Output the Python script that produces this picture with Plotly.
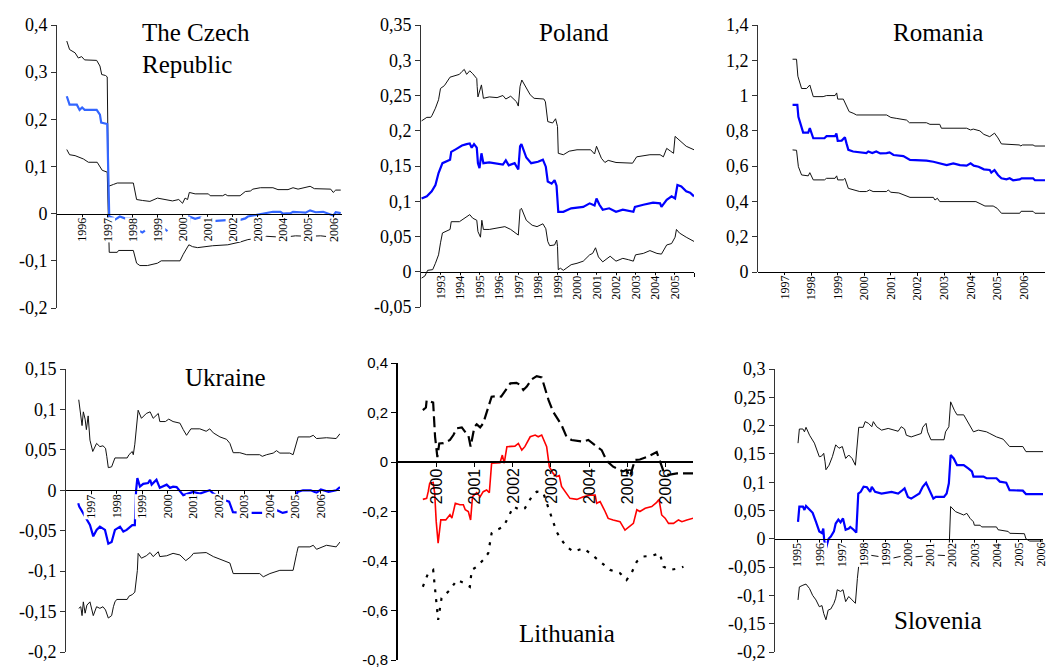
import plotly.graph_objects as go

W, H = 1048, 668
SERIF = "Liberation Serif, Times New Roman, serif"
SANS = "Liberation Sans, Arial, sans-serif"

# ---------------- DATA ----------------
# The Czech Republic
cz_up_x = [1995.39, 1995.5, 1995.72, 1995.85, 1995.98, 1996.1, 1996.58, 1996.71, 1996.78, 1996.93, 1997.0, 1997.05, 1997.25, 1997.4, 1998.04, 1998.17, 1998.4, 1998.7, 1999.0, 1999.35, 1999.6, 1999.85, 2000.0, 2000.1, 2000.2, 2000.27, 2000.5, 2001.03, 2001.1, 2001.6, 2001.7, 2001.8, 2002.29, 2002.5, 2002.7, 2002.8, 2003.1, 2003.6, 2003.8, 2004.2, 2004.4, 2004.6, 2004.9, 2005.08, 2005.25, 2005.5, 2005.9, 2006.0, 2006.1, 2006.3]
cz_up_y = [0.366, 0.348, 0.341, 0.330, 0.333, 0.326, 0.325, 0.313, 0.295, 0.293, 0.290, 0.058, 0.062, 0.065, 0.065, 0.030, 0.028, 0.026, 0.033, 0.030, 0.027, 0.030, 0.022, 0.033, 0.030, 0.045, 0.042, 0.042, 0.038, 0.038, 0.041, 0.038, 0.038, 0.047, 0.048, 0.052, 0.055, 0.055, 0.051, 0.051, 0.055, 0.052, 0.055, 0.058, 0.053, 0.052, 0.052, 0.045, 0.050, 0.050]
cz_mid_x = [1995.39, 1995.5, 1995.79, 1995.9, 1996.0, 1996.1, 1996.58, 1996.71, 1996.76, 1996.98, 1997.0, 1997.08, 1997.25, 1997.3, 1997.5, 1997.7, 1998.04, 1998.15, 1998.3, 1998.4, 1998.5, 1998.6, 1999.2, 1999.3, 1999.4, 1999.5, 2000.25, 2000.27, 2000.5, 2000.7, 2001.2, 2001.9, 2002.3, 2002.5, 2002.6, 2002.8, 2003.1, 2003.35, 2003.6, 2003.9, 2004.0, 2004.3, 2004.4, 2004.7, 2004.9, 2005.08, 2005.3, 2005.6, 2005.8, 2006.0, 2006.1, 2006.3]
cz_mid_y = [0.249, 0.231, 0.231, 0.220, 0.225, 0.220, 0.220, 0.210, 0.193, 0.190, 0.190, -0.006, -0.009, -0.013, -0.006, -0.010, -0.011, None, -0.037, -0.040, -0.036, None, -0.036, -0.033, -0.037, None, -0.028, -0.006, -0.011, -0.008, -0.016, -0.013, -0.013, -0.010, -0.006, -0.004, -0.001, 0.000, 0.004, 0.004, 0.000, 0.001, 0.004, 0.003, 0.002, 0.007, 0.003, 0.004, 0.000, -0.004, 0.003, 0.001]
cz_lo_x = [1995.39, 1995.5, 1995.72, 1995.92, 1996.05, 1996.25, 1996.6, 1996.8, 1997.0, 1997.08, 1997.4, 1997.45, 1998.04, 1998.17, 1998.3, 1998.6, 1998.8, 1999.0, 1999.15, 1999.9, 2000.03, 2000.25, 2000.4, 2000.6, 2001.2, 2001.8, 2002.3, 2002.6, 2003.0, 2003.35, 2004.0, 2004.5, 2005.0, 2005.5, 2006.0, 2006.3]
cz_lo_y = [0.136, 0.125, 0.123, 0.118, 0.116, 0.109, 0.109, 0.092, 0.088, -0.082, -0.082, -0.078, -0.078, -0.105, -0.110, -0.110, -0.108, -0.105, -0.100, -0.100, -0.086, -0.066, -0.070, -0.072, -0.068, -0.066, -0.060, -0.055, -0.052, -0.048, -0.050, -0.047, -0.048, -0.047, -0.050, -0.048]

# Poland
pl_up_x = [1992.03, 1992.3, 1992.5, 1992.57, 1992.74, 1992.9, 1993.0, 1993.2, 1993.49, 1993.7, 1993.97, 1994.1, 1994.22, 1994.34, 1994.5, 1994.65, 1994.86, 1994.88, 1994.92, 1995.1, 1995.2, 1995.5, 1995.9, 1996.2, 1996.35, 1996.6, 1996.9, 1996.99, 1997.08, 1997.17, 1997.35, 1997.6, 1997.8, 1998.3, 1998.38, 1998.45, 1998.5, 1998.75, 1998.9, 1999.0, 1999.04, 1999.3, 1999.6, 2000.0, 2000.7, 2000.9, 2001.0, 2001.25, 2001.43, 2001.6, 2002.0, 2002.85, 2003.06, 2003.74, 2004.26, 2004.43, 2004.6, 2004.8, 2004.95, 2005.03, 2005.25, 2005.6, 2006.0]
pl_up_y = [0.214, 0.219, 0.219, 0.222, 0.232, 0.244, 0.260, 0.264, 0.276, 0.278, 0.280, 0.284, 0.287, 0.280, 0.285, 0.281, 0.274, 0.263, 0.248, 0.265, 0.246, 0.248, 0.247, 0.250, 0.245, 0.249, 0.241, 0.235, 0.263, 0.272, 0.263, 0.251, 0.246, 0.245, 0.241, 0.227, 0.213, 0.211, 0.217, 0.206, 0.168, 0.166, 0.171, 0.173, 0.173, 0.167, 0.178, 0.161, 0.155, 0.158, 0.155, 0.154, 0.163, 0.166, 0.166, 0.163, 0.175, 0.171, 0.168, 0.192, 0.187, 0.178, 0.173]
pl_mid_x = [1992.03, 1992.3, 1992.55, 1992.74, 1992.9, 1993.1, 1993.49, 1993.55, 1993.8, 1994.1, 1994.34, 1994.5, 1994.6, 1994.72, 1994.86, 1994.92, 1995.0, 1995.1, 1995.2, 1995.5, 1996.2, 1996.35, 1996.5, 1996.8, 1996.99, 1997.08, 1997.15, 1997.4, 1997.65, 1998.0, 1998.25, 1998.4, 1998.5, 1998.7, 1998.85, 1998.95, 1999.04, 1999.3, 1999.7, 2000.32, 2000.65, 2000.9, 2001.0, 2001.15, 2001.32, 2001.65, 2002.0, 2002.35, 2002.89, 2002.97, 2003.4, 2003.9, 2004.26, 2004.33, 2004.6, 2004.85, 2005.03, 2005.15, 2005.35, 2005.6, 2005.8, 2006.0]
pl_mid_y = [0.104, 0.107, 0.114, 0.123, 0.140, 0.154, 0.159, 0.170, 0.174, 0.179, 0.181, 0.182, 0.176, 0.181, 0.176, 0.154, 0.147, 0.168, 0.154, 0.155, 0.152, 0.158, 0.151, 0.154, 0.145, 0.178, 0.181, 0.162, 0.154, 0.156, 0.159, 0.149, 0.128, 0.125, 0.130, 0.122, 0.085, 0.085, 0.090, 0.092, 0.097, 0.094, 0.104, 0.095, 0.088, 0.090, 0.085, 0.088, 0.085, 0.092, 0.095, 0.098, 0.097, 0.092, 0.102, 0.107, 0.104, 0.123, 0.121, 0.114, 0.112, 0.107]
pl_lo_x = [1992.03, 1992.2, 1992.34, 1992.6, 1992.74, 1992.9, 1993.0, 1993.1, 1993.49, 1993.55, 1993.97, 1994.34, 1994.5, 1994.65, 1994.86, 1994.92, 1995.05, 1995.12, 1995.2, 1995.5, 1996.3, 1996.6, 1996.99, 1997.08, 1997.15, 1997.4, 1997.7, 1997.95, 1998.25, 1998.4, 1998.5, 1998.6, 1998.85, 1998.96, 1999.0, 1999.04, 1999.15, 1999.3, 1999.7, 2000.0, 2000.32, 2000.65, 2000.8, 2000.95, 2001.1, 2001.32, 2001.7, 2002.0, 2002.35, 2002.65, 2002.89, 2003.0, 2003.4, 2003.74, 2004.1, 2004.33, 2004.6, 2004.85, 2005.03, 2005.1, 2005.25, 2005.6, 2006.0]
pl_lo_y = [-0.009, -0.006, 0.002, 0.003, 0.012, 0.024, 0.041, 0.055, 0.060, 0.071, 0.071, 0.078, 0.081, 0.076, 0.073, 0.057, 0.049, 0.073, 0.060, 0.060, 0.064, 0.060, 0.052, 0.088, 0.090, 0.073, 0.066, 0.064, 0.068, 0.061, 0.043, 0.037, 0.038, 0.045, 0.036, 0.003, 0.005, 0.002, 0.010, 0.012, 0.015, 0.024, 0.026, 0.034, 0.021, 0.014, 0.022, 0.015, 0.019, 0.017, 0.015, 0.024, 0.026, 0.030, 0.026, 0.025, 0.038, 0.040, 0.049, 0.060, 0.055, 0.049, 0.043]

# Romania
ro_up_x = [1997.3, 1997.45, 1997.5, 1997.64, 1997.83, 1997.95, 1998.08, 1998.45, 1998.58, 1998.9, 1998.96, 1999.0, 1999.21, 1999.33, 1999.43, 1999.58, 1999.71, 2000.84, 2001.0, 2001.2, 2001.59, 2001.7, 2002.34, 2002.47, 2002.84, 2002.9, 2003.85, 2004.0, 2004.1, 2004.35, 2004.5, 2004.72, 2004.85, 2004.9, 2005.03, 2005.16, 2005.85, 2005.88, 2005.95, 2006.35, 2006.42, 2006.8]
ro_up_y = [1.206, 1.206, 1.110, 1.040, 1.040, 1.060, 0.994, 0.994, 1.000, 1.000, 1.015, 0.980, 0.980, 0.937, 0.909, 0.900, 0.890, 0.890, 0.876, 0.871, 0.861, 0.846, 0.846, 0.837, 0.837, 0.815, 0.815, 0.805, 0.810, 0.800, 0.780, 0.767, 0.780, 0.787, 0.760, 0.726, 0.720, 0.714, 0.720, 0.720, 0.714, 0.714]
ro_mid_x = [1997.3, 1997.48, 1997.52, 1997.64, 1997.7, 1997.89, 1997.95, 1998.08, 1998.5, 1998.58, 1998.9, 1998.95, 1999.0, 1999.15, 1999.27, 1999.33, 1999.4, 1999.58, 1999.83, 2000.08, 2000.15, 2000.3, 2000.45, 2000.6, 2000.84, 2000.95, 2001.1, 2001.47, 2001.72, 2002.34, 2002.6, 2002.84, 2003.1, 2003.35, 2003.6, 2003.85, 2004.0, 2004.12, 2004.3, 2004.5, 2004.72, 2004.78, 2004.9, 2005.03, 2005.16, 2005.35, 2005.47, 2005.6, 2005.85, 2005.92, 2006.35, 2006.42, 2006.8]
ro_mid_y = [0.947, 0.947, 0.880, 0.815, 0.790, 0.790, 0.815, 0.758, 0.758, 0.770, 0.770, 0.785, 0.744, 0.745, 0.764, 0.729, 0.692, 0.683, 0.678, 0.674, 0.683, 0.674, 0.683, 0.672, 0.674, 0.678, 0.663, 0.657, 0.635, 0.631, 0.625, 0.616, 0.606, 0.616, 0.606, 0.603, 0.616, 0.603, 0.597, 0.582, 0.578, 0.563, 0.578, 0.550, 0.531, 0.525, 0.531, 0.520, 0.525, 0.531, 0.531, 0.520, 0.520]
ro_lo_x = [1997.3, 1997.45, 1997.52, 1997.64, 1997.89, 1997.95, 1998.08, 1998.5, 1998.58, 1998.9, 1998.96, 1999.0, 1999.21, 1999.27, 1999.4, 1999.58, 1999.83, 2000.08, 2000.2, 2000.33, 2000.84, 2000.9, 2001.0, 2001.3, 2001.72, 2002.6, 2002.66, 2002.75, 2002.84, 2004.2, 2004.35, 2004.54, 2004.85, 2005.0, 2005.16, 2005.85, 2005.9, 2006.35, 2006.42, 2006.8]
ro_lo_y = [0.692, 0.690, 0.597, 0.550, 0.545, 0.563, 0.522, 0.522, 0.531, 0.531, 0.545, 0.522, 0.522, 0.531, 0.474, 0.465, 0.456, 0.456, 0.465, 0.456, 0.456, 0.465, 0.452, 0.448, 0.423, 0.423, 0.408, 0.418, 0.399, 0.399, 0.389, 0.374, 0.374, 0.361, 0.333, 0.333, 0.344, 0.344, 0.333, 0.333]

# Ukraine
ua_up_x = [1996.5, 1996.55, 1996.63, 1996.68, 1996.75, 1996.8, 1996.87, 1996.94, 1997.05, 1997.2, 1997.33, 1997.45, 1997.55, 1997.6, 1997.66, 1997.79, 1997.92, 1998.4, 1998.47, 1998.6, 1998.64, 1998.7, 1998.77, 1998.83, 1998.96, 1999.15, 1999.3, 1999.42, 1999.62, 1999.68, 1999.9, 2000.03, 2000.2, 2000.47, 2000.6, 2000.73, 2000.9, 2001.25, 2001.5, 2001.64, 2001.78, 2002.04, 2002.3, 2002.43, 2002.56, 2002.82, 2003.09, 2003.6, 2003.7, 2003.87, 2004.13, 2004.26, 2004.39, 2004.78, 2004.91, 2005.05, 2005.11, 2005.57, 2005.7, 2005.83, 2006.22, 2006.6, 2006.75]
ua_up_y = [0.112, 0.100, 0.080, 0.097, 0.088, 0.075, 0.092, 0.062, 0.048, 0.058, 0.054, 0.055, 0.052, 0.042, 0.028, 0.029, 0.040, 0.040, 0.044, 0.048, 0.044, 0.057, 0.083, 0.099, 0.089, 0.095, 0.097, 0.089, 0.095, 0.085, 0.085, 0.088, 0.085, 0.083, 0.075, 0.068, 0.076, 0.076, 0.073, 0.076, 0.071, 0.066, 0.063, 0.058, 0.0465, 0.0465, 0.044, 0.044, 0.042, 0.044, 0.046, 0.049, 0.046, 0.046, 0.044, 0.058, 0.066, 0.066, 0.068, 0.064, 0.065, 0.064, 0.070]
ua_mid_x = [1996.48, 1996.52, 1996.94, 1997.07, 1997.2, 1997.33, 1997.53, 1997.66, 1997.79, 1997.92, 1998.12, 1998.25, 1998.38, 1998.6, 1998.7, 1998.75, 1998.8, 1998.9, 1999.03, 1999.22, 1999.3, 1999.36, 1999.55, 1999.68, 1999.95, 2000.08, 2000.2, 2000.34, 2000.6, 2000.99, 2001.25, 2001.64, 2001.78, 2001.98, 2002.2, 2002.4, 2002.55, 2003.0, 2003.5, 2004.0, 2004.3, 2004.5, 2004.9, 2005.02, 2005.08, 2005.3, 2005.6, 2005.83, 2006.0, 2006.3, 2006.6, 2006.75]
ua_mid_y = [-0.016, -0.02, -0.043, -0.057, -0.049, -0.045, -0.049, -0.066, -0.064, -0.049, -0.045, -0.051, -0.049, -0.043, -0.043, 0.000, 0.015, 0.0045, 0.008, 0.009, 0.013, 0.007, 0.013, 0.003, 0.007, 0.003, 0.0045, 0.004, -0.006, -0.002, -0.004, 0.000, -0.004, -0.008, -0.012, -0.014, -0.027, -0.028, -0.028, -0.028, -0.025, -0.028, -0.025, -0.012, -0.002, 0.000, 0.000, -0.003, 0.001, -0.002, 0.000, 0.004]
ua_lo_x = [1996.5, 1996.58, 1996.63, 1996.68, 1996.75, 1996.82, 1996.94, 1997.07, 1997.2, 1997.33, 1997.45, 1997.55, 1997.66, 1997.79, 1997.86, 1997.92, 1997.99, 1998.4, 1998.47, 1998.6, 1998.7, 1998.77, 1998.8, 1998.83, 1998.96, 1999.15, 1999.3, 1999.42, 1999.62, 1999.68, 1999.95, 2000.2, 2000.47, 2000.7, 2000.9, 2001.0, 2001.5, 2001.78, 2002.04, 2002.43, 2002.56, 2003.6, 2003.74, 2004.0, 2004.39, 2004.91, 2005.05, 2005.11, 2005.57, 2005.7, 2005.83, 2006.22, 2006.6, 2006.75]
ua_lo_y = [-0.146, -0.144, -0.155, -0.138, -0.152, -0.142, -0.138, -0.155, -0.144, -0.146, -0.144, -0.148, -0.158, -0.155, -0.144, -0.138, -0.135, -0.135, -0.131, -0.129, -0.126, -0.110, -0.099, -0.078, -0.084, -0.081, -0.077, -0.082, -0.076, -0.082, -0.081, -0.078, -0.080, -0.087, -0.082, -0.078, -0.077, -0.082, -0.085, -0.090, -0.103, -0.103, -0.107, -0.103, -0.099, -0.099, -0.078, -0.070, -0.070, -0.068, -0.073, -0.068, -0.070, -0.064]

# Lithuania
lt_mid_x = [1999.65, 1999.75, 1999.79, 1999.83, 1999.92, 1999.96, 2000.0, 2000.05, 2000.12, 2000.25, 2000.36, 2000.41, 2000.5, 2000.62, 2000.71, 2000.76, 2000.84, 2000.9, 2000.95, 2001.06, 2001.15, 2001.23, 2001.32, 2001.39, 2001.45, 2001.58, 2001.67, 2001.73, 2001.78, 2001.85, 2001.98, 2002.06, 2002.15, 2002.24, 2002.32, 2002.46, 2002.59, 2002.67, 2002.76, 2002.89, 2002.96, 2003.06, 2003.15, 2003.22, 2003.28, 2003.41, 2003.5, 2003.68, 2003.85, 2004.03, 2004.16, 2004.2, 2004.29, 2004.42, 2004.5, 2004.63, 2004.81, 2004.94, 2005.07, 2005.16, 2005.25, 2005.33, 2005.47, 2005.64, 2005.77, 2005.83, 2005.9, 2005.99, 2006.08, 2006.21, 2006.34, 2006.43, 2006.56, 2006.73]
lt_mid_y = [-0.151, -0.147, -0.120, -0.086, -0.083, -0.126, -0.240, -0.328, -0.234, -0.234, -0.213, -0.227, -0.167, -0.173, -0.173, -0.193, -0.200, -0.234, -0.140, -0.124, -0.140, -0.120, -0.113, -0.124, -0.005, -0.003, -0.003, 0.028, -0.005, 0.062, 0.062, 0.064, 0.075, 0.048, 0.062, 0.102, 0.109, 0.102, 0.109, 0.062, -0.019, -0.046, -0.059, -0.055, -0.099, -0.130, -0.147, -0.151, -0.140, -0.134, -0.134, -0.167, -0.160, -0.200, -0.228, -0.234, -0.241, -0.275, -0.259, -0.248, -0.193, -0.200, -0.187, -0.180, -0.163, -0.151, -0.214, -0.227, -0.248, -0.248, -0.234, -0.241, -0.234, -0.227]
lt_up_x = [1999.65, 1999.73, 1999.75, 1999.92, 1999.97, 2000.03, 2000.08, 2000.19, 2000.36, 2000.45, 2000.54, 2000.67, 2000.75, 2000.84, 2000.9, 2001.0, 2001.06, 2001.15, 2001.23, 2001.32, 2001.45, 2001.58, 2001.7, 2001.85, 2001.94, 2002.1, 2002.2, 2002.28, 2002.37, 2002.5, 2002.63, 2002.76, 2002.85, 2002.94, 2003.06, 2003.15, 2003.28, 2003.41, 2003.54, 2003.85, 2003.98, 2004.2, 2004.33, 2004.46, 2004.63, 2004.89, 2004.98, 2005.07, 2005.2, 2005.33, 2005.51, 2005.77, 2005.85, 2005.95, 2006.08, 2006.3, 2006.73]
lt_up_y = [0.210, 0.220, 0.250, 0.240, 0.102, 0.020, 0.075, 0.076, 0.089, 0.109, 0.136, 0.140, 0.123, 0.109, 0.062, 0.142, 0.152, 0.140, 0.156, 0.200, 0.264, 0.266, 0.264, 0.298, 0.318, 0.320, 0.311, 0.291, 0.305, 0.334, 0.347, 0.342, 0.291, 0.250, 0.203, 0.183, 0.149, 0.102, 0.089, 0.082, 0.089, 0.062, 0.048, 0.005, -0.019, -0.038, -0.032, -0.059, 0.008, 0.010, 0.020, 0.040, 0.008, -0.038, -0.052, -0.046, -0.046]
lt_lo_x = [1999.65, 1999.79, 1999.92, 1999.98, 2000.05, 2000.14, 2000.27, 2000.36, 2000.54, 2000.75, 2000.88, 2000.93, 2001.06, 2001.23, 2001.36, 2001.45, 2001.58, 2001.76, 2001.85, 2002.02, 2002.2, 2002.32, 2002.5, 2002.63, 2002.8, 2002.98, 2003.15, 2003.28, 2003.41, 2003.59, 2003.85, 2004.03, 2004.29, 2004.55, 2004.81, 2004.98, 2005.11, 2005.25, 2005.42, 2005.64, 2005.85, 2005.95, 2006.12, 2006.34, 2006.47]
lt_lo_y = [-0.504, -0.449, -0.436, -0.544, -0.638, -0.550, -0.530, -0.517, -0.477, -0.490, -0.504, -0.436, -0.423, -0.396, -0.369, -0.288, -0.275, -0.261, -0.234, -0.180, -0.194, -0.187, -0.140, -0.120, -0.124, -0.207, -0.282, -0.315, -0.342, -0.362, -0.349, -0.369, -0.402, -0.436, -0.449, -0.477, -0.449, -0.402, -0.382, -0.379, -0.369, -0.423, -0.436, -0.430, -0.423]

# Slovenia
si_up_x = [1995.04, 1995.1, 1995.26, 1995.33, 1995.4, 1995.56, 1995.78, 1995.85, 1996.0, 1996.1, 1996.2, 1996.26, 1996.3, 1996.44, 1996.59, 1996.74, 1996.89, 1997.04, 1997.19, 1997.33, 1997.48, 1997.63, 1997.73, 1997.78, 1997.98, 1998.07, 1998.22, 1998.37, 1998.44, 1998.59, 1998.81, 1999.11, 1999.56, 1999.7, 1999.85, 1999.93, 2000.15, 2000.6, 2000.67, 2000.82, 2000.89, 2001.04, 2001.63, 2001.7, 2001.85, 2001.93, 2002.1, 2002.22, 2002.52, 2002.74, 2002.89, 2002.96, 2003.18, 2003.55, 2003.7, 2004.0, 2004.3, 2004.59, 2005.19, 2005.33, 2006.1]
si_up_y = [0.169, 0.194, 0.194, 0.189, 0.197, 0.183, 0.169, 0.160, 0.145, 0.146, 0.151, 0.136, 0.122, 0.130, 0.145, 0.166, 0.160, 0.163, 0.142, 0.148, 0.142, 0.130, 0.175, 0.197, 0.197, 0.207, 0.204, 0.198, 0.207, 0.198, 0.192, 0.195, 0.190, 0.198, 0.194, 0.183, 0.180, 0.186, 0.197, 0.204, 0.189, 0.175, 0.175, 0.189, 0.198, 0.242, 0.227, 0.219, 0.219, 0.204, 0.192, 0.189, 0.192, 0.189, 0.186, 0.180, 0.176, 0.163, 0.163, 0.154, 0.154]
si_mid_x = [1995.04, 1995.1, 1995.26, 1995.33, 1995.4, 1995.56, 1995.7, 1995.85, 1996.0, 1996.12, 1996.18, 1996.22, 1996.3, 1996.42, 1996.52, 1996.66, 1996.74, 1996.86, 1996.96, 1997.07, 1997.19, 1997.33, 1997.4, 1997.55, 1997.67, 1997.76, 1997.87, 1998.0, 1998.15, 1998.3, 1998.37, 1998.52, 1998.81, 1999.26, 1999.56, 1999.7, 1999.85, 2000.0, 2000.15, 2000.52, 2000.67, 2000.82, 2000.93, 2001.04, 2001.15, 2001.26, 2001.63, 2001.75, 2001.85, 2001.93, 2002.07, 2002.22, 2002.52, 2002.74, 2002.89, 2002.96, 2003.41, 2003.55, 2004.0, 2004.15, 2004.44, 2004.59, 2005.19, 2005.33, 2006.1]
si_mid_y = [0.030, 0.057, 0.057, 0.051, 0.058, 0.051, 0.046, 0.030, 0.013, 0.010, 0.018, -0.002, -0.017, 0.000, 0.004, 0.013, 0.027, 0.034, 0.029, 0.036, 0.016, 0.018, 0.021, 0.016, 0.011, 0.080, 0.083, 0.092, 0.091, 0.083, 0.092, 0.083, 0.080, 0.083, 0.080, 0.084, 0.089, 0.074, 0.071, 0.080, 0.092, 0.099, 0.089, 0.079, 0.071, 0.074, 0.074, 0.080, 0.098, 0.148, 0.142, 0.130, 0.130, 0.124, 0.119, 0.110, 0.110, 0.107, 0.107, 0.101, 0.099, 0.086, 0.085, 0.079, 0.079]
si_lo_x = [1995.04, 1995.1, 1995.26, 1995.4, 1995.56, 1995.7, 1995.85, 1996.0, 1996.12, 1996.2, 1996.3, 1996.4, 1996.52, 1996.66, 1996.74, 1996.81, 1996.96, 1997.07, 1997.19, 1997.33, 1997.48, 1997.63, 1997.72, 1997.8, 1998.0, 1998.3, 1998.8, 1999.33, 1999.8, 2000.3, 2000.9, 2001.4, 2001.85, 2001.93, 2002.15, 2002.37, 2002.52, 2002.66, 2002.81, 2002.96, 2003.0, 2003.26, 2003.33, 2004.0, 2004.07, 2004.53, 2004.6, 2005.26, 2005.33, 2005.5, 2006.1]
si_lo_y = [-0.108, -0.085, -0.082, -0.080, -0.088, -0.100, -0.108, -0.120, -0.118, -0.132, -0.143, -0.126, -0.124, -0.114, -0.105, -0.090, -0.093, -0.090, -0.111, -0.102, -0.108, -0.114, -0.070, -0.040, -0.035, -0.029, -0.032, -0.034, -0.030, -0.032, -0.030, -0.029, -0.030, 0.057, 0.048, 0.045, 0.042, 0.045, 0.036, 0.030, 0.024, 0.024, 0.021, 0.021, 0.016, 0.013, 0.0097, 0.009, 0.000, -0.004, -0.004]

# Axis tick values and year labels
cz_yticks = [-0.2, -0.1, 0, 0.1, 0.2, 0.3, 0.4]
pl_yticks = [-0.05, 0, 0.05, 0.1, 0.15, 0.2, 0.25, 0.3, 0.35]
ro_yticks = [0, 0.2, 0.4, 0.6, 0.8, 1.0, 1.2, 1.4]
ua_yticks = [-0.2, -0.15, -0.1, -0.05, 0, 0.05, 0.1, 0.15]
lt_yticks = [-0.8, -0.6, -0.4, -0.2, 0, 0.2, 0.4]
si_yticks = [-0.2, -0.15, -0.1, -0.05, 0, 0.05, 0.1, 0.15, 0.2, 0.25, 0.3]

cz_years = list(range(1996, 2007))
pl_years = list(range(1993, 2006))
ro_years = list(range(1997, 2007))
ua_years = list(range(1997, 2007))
lt_years = list(range(2000, 2007))
si_years = list(range(1995, 2007))

titles = ["The Czech", "Republic", "Poland", "Romania", "Ukraine", "Lithuania", "Slovenia"]

# ---------------- LAYOUT SPECS (window pixel positions) ----------------
panels = [
    dict(px=(57, 342), py=(25, 308), xr=(1995, 2006.35), yr=(-0.2, 0.4), yt=cz_yticks, years=cz_years,
         series=[(cz_up_x, cz_up_y), (cz_lo_x, cz_lo_y), (cz_mid_x, cz_mid_y)], mid="#3366ff", lith=False),
    dict(px=(421, 694), py=(25, 307), xr=(1992, 2006), yr=(-0.05, 0.35), yt=pl_yticks, years=pl_years,
         series=[(pl_up_x, pl_up_y), (pl_lo_x, pl_lo_y), (pl_mid_x, pl_mid_y)], mid="#0000ff", lith=False),
    dict(px=(758, 1045), py=(25, 272), xr=(1996, 2006.8), yr=(0, 1.4), yt=ro_yticks, years=ro_years,
         series=[(ro_up_x, ro_up_y), (ro_lo_x, ro_lo_y), (ro_mid_x, ro_mid_y)], mid="#0000ff", lith=False),
    dict(px=(66, 340), py=(369, 652), xr=(1996, 2006.75), yr=(-0.2, 0.15), yt=ua_yticks, years=ua_years,
         series=[(ua_up_x, ua_up_y), (ua_lo_x, ua_lo_y), (ua_mid_x, ua_mid_y)], mid="#0000ff", lith=False),
    dict(px=(398, 693), py=(363, 660), xr=(1999, 2006.72), yr=(-0.8, 0.4), yt=lt_yticks, years=lt_years,
         series=[(lt_up_x, lt_up_y), (lt_lo_x, lt_lo_y), (lt_mid_x, lt_mid_y)], mid="#ff0000", lith=True),
    dict(px=(775, 1043), py=(369, 652), xr=(1994, 2006.1), yr=(-0.2, 0.3), yt=si_yticks, years=si_years,
         series=[(si_up_x, si_up_y), (si_lo_x, si_lo_y), (si_mid_x, si_mid_y)], mid="#0000ff", lith=False),
]


def fx(px):
    return px / W


def fy(py):
    return 1 - py / H


def fmt(v):
    s = f"{v:.2f}".rstrip("0").rstrip(".")
    if s in ("-0", ""):
        s = "0"
    return s.replace(".", ",")


fig = go.Figure()
layout = dict(width=W, height=H, margin=dict(l=0, r=0, t=0, b=0, pad=0, autoexpand=False),
              paper_bgcolor="white", plot_bgcolor="rgba(0,0,0,0)", showlegend=False)
annotations = []

for i, p in enumerate(panels):
    n = i + 1
    sfx = "" if n == 1 else str(n)
    xd = [fx(p["px"][0]), fx(p["px"][1])]
    yd = [fy(p["py"][1]), fy(p["py"][0])]
    y0, y1 = p["yr"]
    zero_pos = yd[0] + (0 - y0) / (y1 - y0) * (yd[1] - yd[0])
    lw = 2 if p["lith"] else 1
    axcol = "#000000" if p["lith"] else "#333333"
    tickfont = dict(family=SANS, size=15, color="black") if p["lith"] else dict(family=SERIF, size=18, color="black")
    xt = list(p["years"])
    if float(p["xr"][1]).is_integer() and p["xr"][1] not in xt:
        xt.append(p["xr"][1])
    layout["xaxis" + sfx] = dict(domain=xd, range=list(p["xr"]), anchor="free", position=zero_pos,
                                 automargin=False, showline=True, linecolor="#000000", linewidth=lw,
                                 ticks="outside", ticklen=4, tickwidth=1, tickcolor="#000000", tickvals=xt,
                                 showticklabels=False, showgrid=False, zeroline=False, fixedrange=True)
    layout["yaxis" + sfx] = dict(domain=yd, range=[y0, y1], anchor="x" + sfx, automargin=False,
                                 showline=True, linecolor=axcol, linewidth=lw, ticks="outside", ticklen=5,
                                 tickwidth=1, tickcolor=axcol, tickvals=p["yt"],
                                 ticktext=[fmt(v) for v in p["yt"]], tickfont=tickfont,
                                 ticklabeloverflow="allow",
                                 showgrid=False, zeroline=False, fixedrange=True)
    (ux, uy), (lx, ly), (mx, my) = p["series"]
    if p["lith"]:
        up_line = dict(color="black", width=2.2, dash="11px,5px")
        lo_line = dict(color="black", width=2.2, dash="3px,7px")
        mid_line = dict(color=p["mid"], width=1.6)
    else:
        up_line = dict(color="#111111", width=1)
        lo_line = dict(color="#111111", width=1)
        mid_line = dict(color=p["mid"], width=2.2)
    for xs, ys, ln in ((ux, uy, up_line), (lx, ly, lo_line), (mx, my, mid_line)):
        fig.add_trace(go.Scatter(x=xs, y=ys, mode="lines", line=ln, xaxis="x" + sfx, yaxis="y" + sfx,
                                 hoverinfo="skip", showlegend=False))
    for yv in p["years"]:
        if p["lith"]:
            annotations.append(dict(x=yv, y=0, xref="x" + sfx, yref="y" + sfx, text=str(yv),
                                    textangle=-90, showarrow=False, xanchor="center", yanchor="top",
                                    yshift=-4, font=dict(family=SANS, size=16, color="black")))
        else:
            annotations.append(dict(x=yv, y=0, xref="x" + sfx, yref="y" + sfx, text=str(yv),
                                    textangle=-90, showarrow=False, xanchor="center", yanchor="top",
                                    yshift=-3, bgcolor="white", borderpad=0,
                                    font=dict(family=SERIF, size=12, color="black")))

# Panel titles (window pixel positions -> paper fractions)
title_pos = [(140, 32, "left"), (140, 65, "left"), (574, 32, "center"), (938, 32, "center"),
             (225, 377, "center"), (567, 633, "center"), (938, 620, "center")]
for t, (tx, ty, anc) in zip(titles, title_pos):
    annotations.append(dict(x=fx(tx), y=fy(ty), xref="paper", yref="paper", text=t, showarrow=False,
                            xanchor=anc, yanchor="middle", font=dict(family=SERIF, size=25, color="black")))

layout["annotations"] = annotations
fig.update_layout(**layout)
# Remove the browser's default 8px page margin so the figure fills the window exactly.
fig.write_html("out.html", config={"displayModeBar": False, "staticPlot": True},
               post_script="document.body.style.margin='0';document.body.style.overflow='hidden';")
